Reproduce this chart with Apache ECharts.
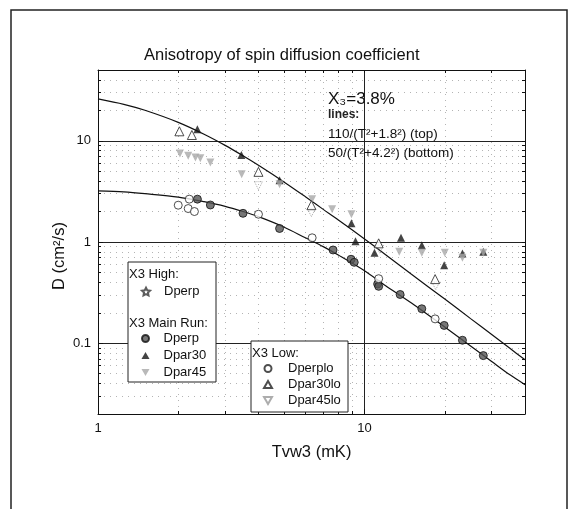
<!DOCTYPE html>
<html>
<head>
<meta charset="utf-8">
<script src="https://cdn.jsdelivr.net/npm/echarts@6/dist/echarts.min.js"></script>
<style>html,body{margin:0;padding:0;background:#fff}#chart{width:578px;height:509px}</style>
</head>
<body>
<div id="chart"></div>
<script>
// fit lines
const lineT = [1, 1.25, 1.5, 2, 2.5, 3, 3.5, 4, 5, 6, 7, 8, 10, 12, 15, 20, 25, 30, 35, 40];
const topLine = [25.9, 22.9, 20.0, 15.2, 11.6, 9.0, 7.1, 5.72, 3.9, 2.8, 2.1, 1.64, 1.07, 0.75, 0.48, 0.273, 0.175, 0.122, 0.0896, 0.0686];
const bottomLine = [3.2, 3.12, 3.0, 2.78, 2.5, 2.25, 2.0, 1.78, 1.4, 1.1, 0.9, 0.74, 0.52, 0.37, 0.25, 0.145, 0.094, 0.066, 0.049, 0.039];

// X3 main run
const perpT = [2.36, 2.64, 3.5, 4.8, 7.62, 8.9, 9.15, 11.2, 11.3, 13.6, 16.4, 19.9, 23.3, 27.9];
const perpD = [2.65, 2.32, 1.92, 1.36, 0.834, 0.675, 0.63, 0.385, 0.365, 0.303, 0.219, 0.150, 0.107, 0.0755];
const par30T = [2.36, 3.45, 4.8, 8.93, 9.25, 10.9, 13.7, 16.4, 19.9, 23.3, 27.9];
const par30D = [13.0, 7.22, 4.08, 1.53, 1.02, 0.785, 1.10, 0.93, 0.59, 0.77, 0.80];
const par45T = [2.03, 2.18, 2.32, 2.42, 2.64, 3.46, 4.8, 6.36, 7.56, 8.93, 13.5, 16.4, 20, 23.3, 27.9];
const par45D = [7.5, 7.1, 6.85, 6.7, 6.1, 4.68, 3.72, 2.65, 2.11, 1.88, 0.80, 0.785, 0.785, 0.70, 0.785];

// X3 low
const perploT = [2.0, 2.2, 2.18, 2.3, 4.0, 6.36, 11.3, 18.4];
const perploD = [2.31, 2.65, 2.14, 2.0, 1.88, 1.1, 0.434, 0.174];
const par30loT = [2.02, 2.25, 4.0, 6.32, 11.3, 18.4];
const par30loD = [12.4, 11.4, 4.93, 2.31, 0.97, 0.43];
const par45loT = [4.0, 6.32, 11.4, 18.5];
const par45loD = [3.6, 1.95, 0.85, 0.37];

const xMinor = [2, 3, 4, 5, 6, 7, 8, 9, 20, 30, 40];
const yMinor = [0.02, 0.03, 0.04, 0.05, 0.06, 0.07, 0.08, 0.09, 0.2, 0.3, 0.4, 0.5, 0.6, 0.7, 0.8, 0.9,
  2, 3, 4, 5, 6, 7, 8, 9, 20, 30, 40, 50];
const xAll = [1, 2, 3, 4, 5, 6, 7, 8, 9, 10, 20, 30, 40];
const yAll = [0.02, 0.03, 0.04, 0.05, 0.06, 0.07, 0.08, 0.09, 0.1, 0.2, 0.3, 0.4, 0.5, 0.6, 0.7, 0.8, 0.9,
  1, 2, 3, 4, 5, 6, 7, 8, 9, 10, 20, 30, 40, 50];

const zip = (a, b) => a.map((v, i) => [v, b[i]]);
const FONT = 'Liberation Sans, Arial, sans-serif';
const STAR = 'path://M0,-10L2.9,-4L9.5,-3.1L4.7,1.5L5.9,8.1L0,5L-5.9,8.1L-4.7,1.5L-9.5,-3.1L-2.9,-4Z';
const INV_TRI = 'path://M0,0L10,0L5,8.7Z';

const chart = echarts.init(document.getElementById('chart'));

const xBase = {type: 'log', logBase: 10, min: 1, max: 40, gridIndex: 0};
const yBase = {type: 'log', logBase: 10, min: 0.02, max: 50, gridIndex: 0};
const hidden = {axisLabel: {show: false}, axisLine: {show: false}};
const minorGrid = {show: true, lineStyle: {color: '#b4b4b4', type: [1, 5], width: 1}};
const legendText = pad => ({fontFamily: FONT, fontSize: 13, color: '#111', lineHeight: 15, padding: [0, 0, 0, pad]});

chart.setOption({
  animation: false,
  title: {
    text: 'Anisotropy of spin diffusion coefficient',
    left: 139, top: 42,
    textStyle: {fontFamily: FONT, fontSize: 16.5, fontWeight: 'normal', color: '#111'}
  },
  grid: {left: 98, right: 53, top: 70, bottom: 95},
  xAxis: [
    Object.assign({}, xBase, {
      position: 'bottom',
      name: 'Tvw3 (mK)', nameLocation: 'middle', nameGap: 30,
      nameTextStyle: {fontFamily: FONT, fontSize: 16.5, color: '#111'},
      axisLine: {lineStyle: {color: '#111', width: 1}},
      axisTick: {inside: true, length: 5, lineStyle: {color: '#111'}},
      axisLabel: {fontFamily: FONT, fontSize: 13, color: '#111', margin: 8, showMaxLabel: false},
      splitLine: {show: true, lineStyle: {color: '#222', width: 1}}
    }),
    Object.assign({}, xBase, hidden, {
      position: 'bottom',
      axisTick: {inside: true, length: 3, customValues: xMinor, lineStyle: {color: '#111'}},
      splitLine: minorGrid
    }),
    Object.assign({}, xBase, {
      position: 'top',
      axisLabel: {show: false},
      axisLine: {lineStyle: {color: '#111', width: 1}},
      axisTick: {inside: true, length: 3, customValues: xAll, lineStyle: {color: '#111'}},
      splitLine: {show: false}
    })
  ],
  yAxis: [
    Object.assign({}, yBase, {
      position: 'left',
      axisLine: {lineStyle: {color: '#111', width: 1}},
      axisTick: {inside: true, length: 5, lineStyle: {color: '#111'}},
      axisLabel: {fontFamily: FONT, fontSize: 13, color: '#111', margin: 7, showMinLabel: false, showMaxLabel: false},
      splitLine: {show: true, lineStyle: {color: '#222', width: 1}}
    }),
    Object.assign({}, yBase, hidden, {
      position: 'left',
      axisTick: {inside: true, length: 3, customValues: yMinor, lineStyle: {color: '#111'}},
      splitLine: minorGrid
    }),
    Object.assign({}, yBase, {
      position: 'right',
      axisLabel: {show: false},
      axisLine: {lineStyle: {color: '#111', width: 1}},
      axisTick: {inside: true, length: 3, customValues: yAll, lineStyle: {color: '#111'}},
      splitLine: {show: false}
    })
  ],
  legend: [
    {
      data: ['Dperp (high)'], z: 20, padding: 0,
      left: 141, top: 284, orient: 'vertical',
      itemWidth: 8, itemHeight: 8, itemGap: 2,
      formatter: n => n.replace(' (high)', ''),
      textStyle: legendText(9),
      selectedMode: false
    },
    {
      data: ['Dperp', 'Dpar30', 'Dpar45'], z: 20, padding: 0,
      left: 141, top: 331, orient: 'vertical',
      itemWidth: 8, itemHeight: 7, itemGap: 2,
      textStyle: legendText(9),
      selectedMode: false
    },
    {
      data: ['Dperplo', 'Dpar30lo', 'Dpar45lo'], z: 20, padding: 0,
      left: 263, top: 361, orient: 'vertical',
      itemWidth: 8, itemHeight: 7, itemGap: 1,
      textStyle: legendText(11),
      selectedMode: false
    }
  ],
  graphic: [
    {type: 'rect', z: 3, shape: {x: 11, y: 10, width: 556, height: 520}, style: {fill: 'none', stroke: '#222', lineWidth: 1.5}, silent: true},
    {type: 'rect', z: 3, shape: {x: 128, y: 262, width: 88, height: 120}, style: {fill: '#fff', stroke: '#222', lineWidth: 1}},
    {type: 'rect', z: 3, shape: {x: 251, y: 341, width: 97, height: 71}, style: {fill: '#fff', stroke: '#222', lineWidth: 1}},
    {type: 'text', z: 21, left: 129, top: 268, style: {text: 'X3 High:', font: '13px ' + FONT, fill: '#111'}},
    {type: 'text', z: 21, left: 129, top: 317, style: {text: 'X3 Main Run:', font: '13px ' + FONT, fill: '#111'}},
    {type: 'text', z: 21, left: 252, top: 347, style: {text: 'X3 Low:', font: '13px ' + FONT, fill: '#111'}},
    {type: 'text', z: 21, left: 328, top: 91, style: {text: 'X₃=3.8%', font: '17px ' + FONT, fill: '#111'}},
    {type: 'text', z: 21, left: 328, top: 109, style: {text: 'lines:', font: 'bold 12px ' + FONT, fill: '#222'}},
    {type: 'text', z: 21, left: 328, top: 127, style: {text: '110/(T²+1.8²) (top)', font: '13.5px ' + FONT, fill: '#111'}},
    {type: 'text', z: 21, left: 328, top: 146, style: {text: '50/(T²+4.2²) (bottom)', font: '13.5px ' + FONT, fill: '#111'}},
    {type: 'text', z: 21, x: 59, y: 256, rotation: Math.PI / 2,
      style: {text: 'D (cm²/s)', font: '16.5px ' + FONT, fill: '#111', align: 'center', verticalAlign: 'middle'}}
  ],
  series: [
    {type: 'line', name: 'top fit', data: zip(lineT, topLine), smooth: 0.3, showSymbol: false,
      lineStyle: {color: '#111', width: 1.2}, silent: true, z: 1},
    {type: 'line', name: 'bottom fit', data: zip(lineT, bottomLine), smooth: 0.3, showSymbol: false,
      lineStyle: {color: '#111', width: 1.2}, silent: true, z: 1},
    {type: 'scatter', name: 'Dperp (high)', data: [], symbol: STAR, symbolSize: 8,
      itemStyle: {color: '#fff', borderColor: '#333', borderWidth: 1}},
    {type: 'scatter', name: 'Dpar30', data: zip(par30T, par30D), symbol: 'triangle', symbolSize: 8,
      itemStyle: {color: '#151515'}},
    {type: 'scatter', name: 'Dpar45', data: zip(par45T, par45D), symbol: INV_TRI, symbolSize: 8,
      itemStyle: {color: '#a8a8a8'}},
    {type: 'scatter', name: 'Dpar45lo', data: zip(par45loT, par45loD), symbol: INV_TRI, symbolSize: 8,
      itemStyle: {color: 'rgba(255,255,255,0)', borderColor: '#999', borderWidth: 1, borderType: 'dotted'}},
    {type: 'scatter', name: 'Dpar30lo', data: zip(par30loT, par30loD), symbol: 'triangle', symbolSize: 9,
      itemStyle: {color: '#fff', borderColor: '#222', borderWidth: 1}},
    {type: 'scatter', name: 'Dperp', data: zip(perpT, perpD), symbol: 'circle', symbolSize: 8,
      itemStyle: {color: '#555', borderColor: '#111', borderWidth: 1}},
    {type: 'scatter', name: 'Dperplo', data: zip(perploT, perploD), symbol: 'circle', symbolSize: 8,
      itemStyle: {color: '#fff', borderColor: '#222', borderWidth: 1}}
  ]
});
</script>
</body>
</html>
